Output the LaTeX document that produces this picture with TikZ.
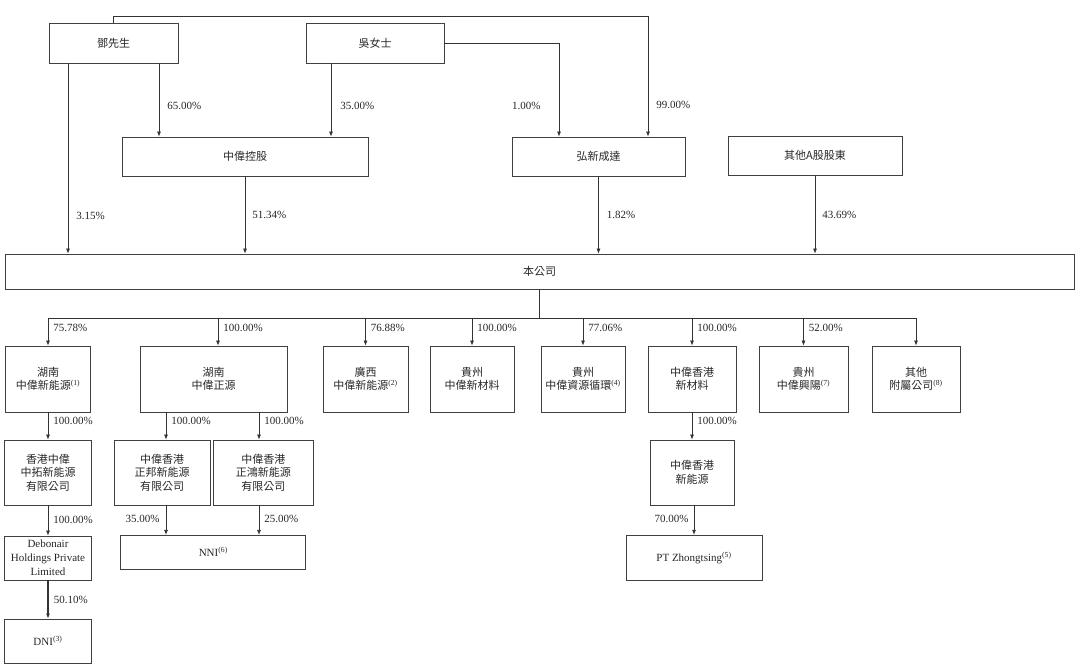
\documentclass[tikz,border=0pt]{standalone}
\usepackage{fontspec}
\setmainfont{Liberation Serif}
\newfontfamily\cjk{Noto Sans CJK TC}
\usetikzlibrary{arrows.meta}
\newcommand{\refmark}[1]{\textsuperscript{\rmfamily(#1)}}

\begin{document}
\begin{tikzpicture}[x=1pt, y=-1pt, >={Latex[length=5pt,width=4pt]},
  box/.style={rectangle, draw=black!75, line width=0.8pt, inner sep=0pt, align=center, text=black!85, font=\cjk\fontsize{11}{13.5}\selectfont},
  ebox/.style={box, font=\fontsize{11}{14}\selectfont},
  lab/.style={inner sep=0pt, text=black!85, font=\fontsize{11}{13}\selectfont},
  link/.style={draw=black!80, line width=0.7pt}]
\useasboundingbox (0,0) rectangle (1080,670);

\node (A) [box, minimum width=129pt, minimum height=40pt] at (113.5,43) {鄧先生};
\node (B) [box, minimum width=138pt, minimum height=40pt] at (375,43) {吳女士};
\node (C) [box, minimum width=246pt, minimum height=39pt] at (245,156.5) {中偉控股};
\node (D) [box, minimum width=173pt, minimum height=39pt] at (598.5,156.5) {弘新成達};
\node (E) [box, minimum width=174pt, minimum height=39pt] at (815,155.5) {其他A股股東};
\node (F) [box, minimum width=1069pt, minimum height=35pt] at (539.5,271.5) {本公司};

\node (G) [box, minimum width=85pt, minimum height=66pt] at (48,379) {湖南\\中偉新能源\refmark{1}};
\node (H) [box, minimum width=147pt, minimum height=66pt] at (213.5,379) {湖南\\中偉正源};
\node (I) [box, minimum width=85pt, minimum height=66pt] at (365.5,379) {廣西\\中偉新能源\refmark{2}};
\node (J) [box, minimum width=84pt, minimum height=66pt] at (472,379) {貴州\\中偉新材料};
\node (K) [box, minimum width=84pt, minimum height=66pt] at (583,379) {貴州\\中偉資源循環\refmark{4}};
\node (L) [box, minimum width=88pt, minimum height=66pt] at (692,379) {中偉香港\\新材料};
\node (M) [box, minimum width=89pt, minimum height=66pt] at (803.5,379) {貴州\\中偉興陽\refmark{7}};
\node (N) [box, minimum width=88pt, minimum height=66pt] at (916,379) {其他\\附屬公司\refmark{8}};

\node (O) [box, minimum width=87pt, minimum height=65pt] at (48,472.5) {香港中偉\\中拓新能源\\有限公司};
\node (P) [box, minimum width=96pt, minimum height=65pt] at (162,472.5) {中偉香港\\正邦新能源\\有限公司};
\node (Q) [box, minimum width=100pt, minimum height=65pt] at (263.3,472.5) {中偉香港\\正鴻新能源\\有限公司};
\node (R) [box, minimum width=84pt, minimum height=65pt] at (692,472.5) {中偉香港\\新能源};

\node (S) [ebox, minimum width=87pt, minimum height=44pt] at (48,558) {Debonair\\Holdings Private\\Limited};
\node (T) [ebox, minimum width=185pt, minimum height=34pt] at (213.3,552.3) {NNI\refmark{6}};
\node (U) [ebox, minimum width=136pt, minimum height=45pt] at (694,557.7) {PT Zhongtsing\refmark{5}};
\node (V) [ebox, minimum width=87pt, minimum height=44pt] at (48,641) {DNI\refmark{3}};

\draw[link,->] (A.north) -- ++(0,-6.5) -| (D.north -| 648,0) node[lab, pos=0.87, right=8pt] {99.00\%};
\draw[link,->] (B.east) -| (D.north -| 559,0) node[lab, pos=0.835, left=18pt] {1.00\%};
\draw[link,->] (A.south -| 159,0) -- (C.north -| 159,0) node[lab, pos=0.58, right=8pt] {65.00\%};
\draw[link,->] (B.south -| 331,0) -- (C.north -| 331,0) node[lab, pos=0.58, right=9pt] {35.00\%};
\draw[link,->] (A.south -| 68,0) -- (F.north -| 68,0) node[lab, pos=0.8, right=8pt] {3.15\%};
\draw[link,->] (C.south) -- (C.south |- F.north) node[lab, midway, right=7pt] {51.34\%};
\draw[link,->] (D.south) -- (D.south |- F.north) node[lab, midway, right=8pt] {1.82\%};
\draw[link,->] (E.south) -- (E.south |- F.north) node[lab, midway, right=7pt] {43.69\%};

\coordinate (BUS) at (539.5,318);
\draw[link] (F.south) -- (BUS);
\draw[link] (BUS -| G.north) -- (BUS -| N.north);
\draw[link,->] (BUS -| G.north) -- (G.north) node[lab, pos=0.36, right=5pt] {75.78\%};
\draw[link,->] (BUS -| 218,0) -- (H.north -| 218,0) node[lab, pos=0.36, right=5pt] {100.00\%};
\draw[link,->] (BUS -| I.north) -- (I.north) node[lab, pos=0.36, right=5pt] {76.88\%};
\draw[link,->] (BUS -| J.north) -- (J.north) node[lab, pos=0.36, right=5pt] {100.00\%};
\draw[link,->] (BUS -| K.north) -- (K.north) node[lab, pos=0.36, right=5pt] {77.06\%};
\draw[link,->] (BUS -| L.north) -- (L.north) node[lab, pos=0.36, right=5pt] {100.00\%};
\draw[link,->] (BUS -| M.north) -- (M.north) node[lab, pos=0.36, right=5pt] {52.00\%};
\draw[link,->] (BUS -| N.north) -- (N.north);

\draw[link,->] (G.south) -- (O.north) node[lab, pos=0.33, right=5pt] {100.00\%};
\draw[link,->] (H.south -| 166,0) -- (P.north -| 166,0) node[lab, pos=0.33, right=5pt] {100.00\%};
\draw[link,->] (H.south -| 259,0) -- (Q.north -| 259,0) node[lab, pos=0.33, right=5pt] {100.00\%};
\draw[link,->] (L.south) -- (R.north) node[lab, pos=0.33, right=5pt] {100.00\%};

\draw[link,->] (O.south) -- (S.north) node[lab, pos=0.47, right=5pt] {100.00\%};
\draw[link,->] (P.south -| 166,0) -- (T.north -| 166,0) node[lab, pos=0.47, left=6pt] {35.00\%};
\draw[link,->] (Q.south -| 259,0) -- (T.north -| 259,0) node[lab, pos=0.47, right=5pt] {25.00\%};
\draw[link,->] (R.south -| U.north) -- (U.north) node[lab, pos=0.47, left=5pt] {70.00\%};
\draw[link,->, line width=1.6pt] (S.south) -- (V.north) node[lab, pos=0.5, right=5pt] {50.10\%};
\end{tikzpicture}
\end{document}
